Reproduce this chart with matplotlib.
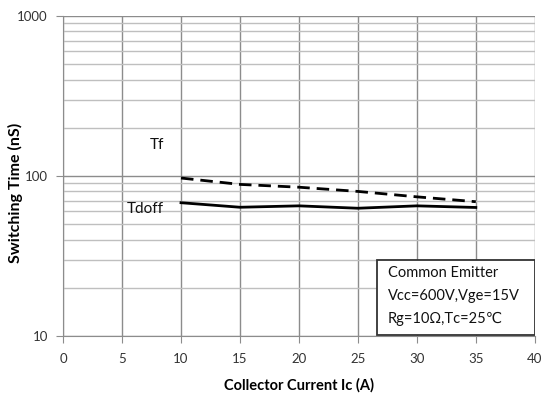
import matplotlib
matplotlib.use("Agg")
import matplotlib.pyplot as plt
from matplotlib.patches import Rectangle

# Data
ic = [10, 15, 20, 25, 30, 35]
tf = [97, 88.5, 85, 80, 74, 69]
tdoff = [68, 63.7, 65, 62.8, 65, 63.5]

x_ticks = [0, 5, 10, 15, 20, 25, 30, 35, 40]
y_ticks = [10, 100, 1000]

plt.rcParams['font.family'] = ['Lato', 'DejaVu Sans']


def main():
    fig = plt.figure(figsize=(5.44, 3.98), dpi=100)
    ax = fig.add_axes([0.116, 0.156, 0.867, 0.804])

    ax.set_yscale('log')
    ax.set_xlim(0, 40)
    ax.set_ylim(10, 1000)
    ax.set_xticks(x_ticks)
    ax.set_xticklabels([str(v) for v in x_ticks])
    ax.set_yticks(y_ticks)
    ax.set_yticklabels([str(v) for v in y_ticks])
    ax.yaxis.set_minor_locator(matplotlib.ticker.LogLocator(base=10, subs=range(2, 10)))
    ax.yaxis.set_minor_formatter(matplotlib.ticker.NullFormatter())

    # Grid lines
    ax.grid(which='major', axis='both', color='#8c8c8c', linewidth=1.0)
    ax.grid(which='minor', axis='y', color='#bfbfbf', linewidth=1.0)
    ax.set_axisbelow(True)

    for side in ['top', 'right']:
        ax.spines[side].set_visible(False)
    ax.spines['left'].set_color('#8c8c8c')
    ax.spines['bottom'].set_color('#8c8c8c')
    ax.tick_params(axis='both', which='major', direction='out', length=5,
                   color='#8c8c8c', labelsize=9.5, labelcolor='#333333', pad=6)
    ax.tick_params(axis='y', which='minor', length=0)
    ax.tick_params(axis='x', pad=7)

    # Curves
    ax.plot(ic, tf, color='black', linestyle=(0, (4.5, 2.5)), linewidth=2)
    ax.plot(ic, tdoff, color='black', linestyle='solid', linewidth=2)

    # Curve labels
    ax.text(8.0, 156, 'Tf', fontsize=11, ha='center', va='center', color='#111111')
    ax.text(7.0, 62, 'Tdoff', fontsize=11, ha='center', va='center', color='#111111')

    ax.set_xlabel('Collector Current Ic (A)', fontsize=10.5, fontweight='bold', va='center')
    ax.xaxis.set_label_coords(0.5, -0.153)
    ax.set_ylabel('Switching Time (nS)', fontsize=11.5, fontweight='bold', va='center')
    ax.yaxis.set_label_coords(-0.101, 0.447)

    # Condition box
    box = Rectangle((0.665, 0.004), 0.335, 0.234, transform=ax.transAxes,
                    facecolor='white', edgecolor='#333333', linewidth=1.3, zorder=5)
    ax.add_patch(box)
    lines = ['Common Emitter', 'Vcc=600V,Vge=15V', 'Rg=10\u03a9,Tc=25\u2103']
    for i, line in enumerate(lines):
        ax.text(0.688, 0.198 - i * 0.072, line, transform=ax.transAxes,
                fontsize=10.5, ha='left', va='center', color='#111111', zorder=6)

    fig.savefig('out.png', dpi=100)


if __name__ == "__main__":
    main()
